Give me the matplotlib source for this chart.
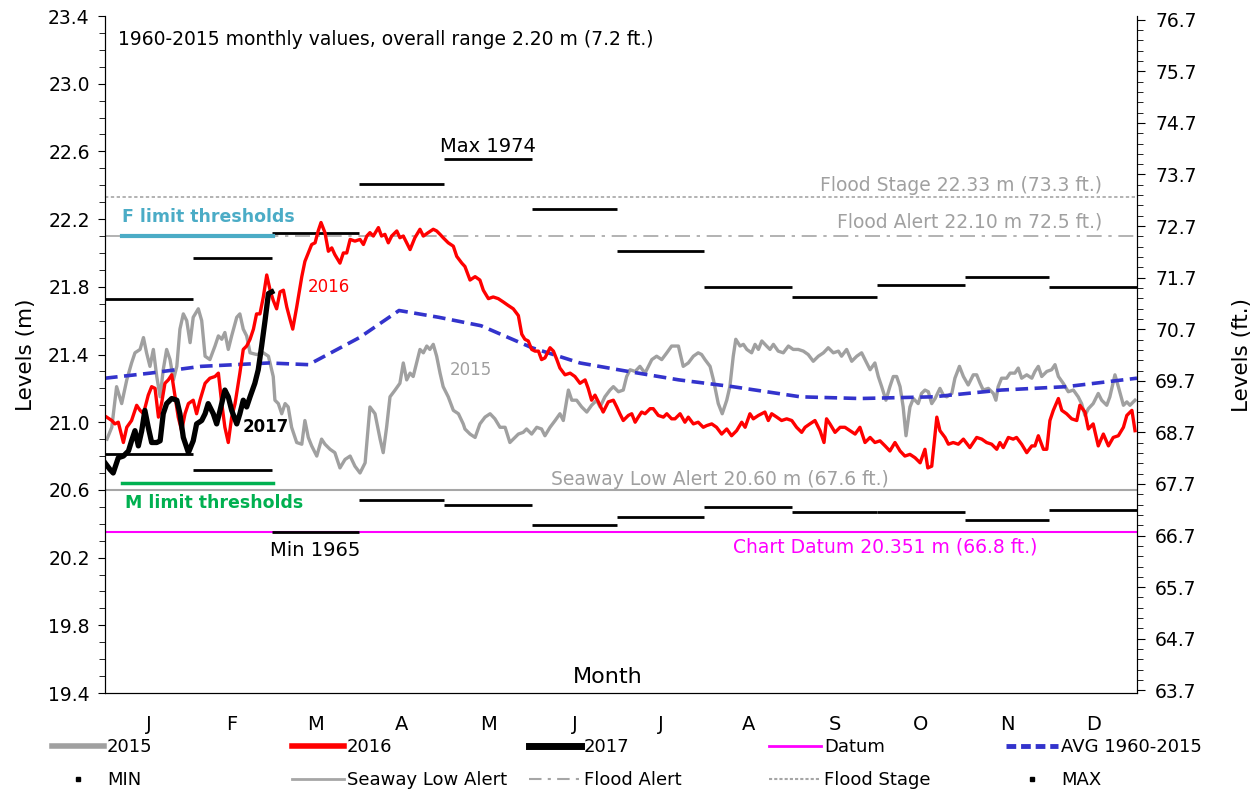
import matplotlib.pyplot as plt
import numpy as np
from matplotlib.lines import Line2D
from matplotlib.ticker import FixedLocator

plt.rcParams['font.family'] = ['DejaVu Sans']

# ---- data ----
MONTHS = ['J', 'F', 'M', 'A', 'M', 'J', 'J', 'A', 'S', 'O', 'N', 'D']
MONTH_DAYS = [31, 28, 31, 30, 31, 30, 31, 31, 30, 31, 30, 31]

# 1960-2015 monthly extremes (m)
MAX_LEVEL = [21.73, 21.97, 22.12, 22.41, 22.555, 22.26, 22.01, 21.80, 21.74, 21.81, 21.86, 21.80]
MIN_LEVEL = [20.81, 20.72, 20.35, 20.54, 20.51, 20.39, 20.44, 20.50, 20.47, 20.47, 20.42, 20.48]

# reference levels (m)
FLOOD_STAGE = 22.33
FLOOD_ALERT = 22.10
SEAWAY_LOW = 20.60
CHART_DATUM = 20.351
F_LIMIT = 22.10
M_LIMIT = 20.64
LIMIT_DAYS = [6.0, 59.4]

# average 1960-2015 (day of year, m)
avg_day = [0, 16, 34, 58, 72, 90, 104, 118, 133, 151, 168, 185, 203, 222,
           246, 267, 293, 317, 340, 355, 365]
avg_val = [21.26, 21.29, 21.33, 21.35, 21.34, 21.50, 21.66, 21.62, 21.57, 21.44,
           21.35, 21.30, 21.25, 21.21, 21.15, 21.14, 21.15, 21.19, 21.21, 21.24, 21.26]

# 2015 daily levels
day_2015 = [0.7, 2.4, 4.1, 5.9, 7.7, 9.4, 10.6, 12.4, 13.6, 14.7, 15.9, 17.1, 18.3, 19.5,
            20.6, 21.8, 23.0, 24.2, 25.4, 26.5, 27.7, 28.9, 30.1, 31.2, 33.0, 34.2, 35.4,
            37.1, 38.9, 40.1, 41.3, 42.4, 43.6, 44.8, 46.6, 47.7, 48.9, 50.1, 51.3, 53.6,
            56.0, 57.8, 59.5, 60.1, 61.3, 62.5, 63.7, 64.8, 66.0, 67.8, 69.6, 70.7, 71.9,
            73.1, 74.9, 76.6, 77.8, 79.6, 81.3, 83.1, 84.9, 86.7, 88.4, 90.2, 92.0, 93.7,
            95.5, 97.3, 98.4, 99.6, 100.8, 102.6, 104.3, 105.5, 106.7, 107.9, 109.0, 110.2,
            111.4, 112.6, 113.8, 114.9, 116.1, 117.3, 118.5, 119.6, 121.4, 123.2, 125.0,
            126.7, 127.3, 129.1, 130.9, 132.6, 134.4, 136.2, 137.9, 139.7, 141.5, 143.2,
            144.4, 146.2, 147.9, 149.1, 150.9, 152.7, 154.4, 155.6, 157.4, 159.2, 160.9,
            162.1, 163.9, 165.1, 166.8, 168.6, 170.4, 172.1, 173.9, 175.1, 176.8, 178.6,
            179.8, 181.6, 183.3, 184.5, 185.7, 187.5, 189.2, 191.0, 192.2, 193.4, 195.1,
            196.9, 198.7, 200.4, 202.8, 204.5, 206.3, 208.1, 209.8, 211.0, 212.2, 214.0,
            215.2, 216.9, 218.3, 219.9, 221.0, 222.2, 223.1, 224.6, 225.8, 227.0, 228.7,
            229.9, 231.1, 232.3, 234.0, 235.2, 236.4, 238.1, 239.9, 241.7, 243.4, 245.2,
            247.0, 248.7, 250.5, 252.3, 254.1, 255.8, 257.6, 259.4, 260.5, 262.3, 264.1,
            265.9, 267.6, 269.4, 270.6, 272.3, 273.5, 274.7, 276.2, 277.6, 278.8, 280.0,
            281.2, 282.3, 283.3, 284.7, 285.9, 287.6, 288.8, 290.0, 291.2, 292.4, 293.6,
            295.3, 296.5, 297.7, 299.5, 300.6, 302.2, 303.6, 305.3, 307.1, 308.3, 309.5,
            310.6, 312.4, 314.2, 315.1, 315.9, 317.1, 318.9, 320.1, 321.8, 323.0, 324.2,
            326.0, 327.8, 328.9, 330.1, 331.3, 333.1, 334.8, 336.0, 337.2, 338.9, 340.7,
            342.5, 344.2, 345.4, 346.6, 347.8, 349.5, 351.3, 352.5, 354.3, 355.4, 357.2,
            358.4, 360.2, 361.4, 362.5, 364.3]
lvl_2015 = [20.90, 20.97, 21.21, 21.11, 21.25, 21.35, 21.41, 21.43, 21.50, 21.41, 21.33, 21.43,
            21.27, 21.15, 21.31, 21.43, 21.37, 21.25, 21.33, 21.55, 21.64, 21.60, 21.47, 21.62,
            21.67, 21.60, 21.39, 21.37, 21.45, 21.51, 21.49, 21.53, 21.43, 21.51, 21.62, 21.64,
            21.55, 21.51, 21.41, 21.40, 21.41, 21.39, 21.27, 21.13, 21.11, 21.05, 21.11, 21.09,
            20.97, 20.88, 20.87, 21.01, 20.91, 20.86, 20.80, 20.90, 20.87, 20.84, 20.82, 20.73,
            20.78, 20.80, 20.74, 20.70, 20.76, 21.09, 21.05, 20.90, 20.82, 20.97, 21.15, 21.19,
            21.23, 21.35, 21.25, 21.29, 21.27, 21.35, 21.43, 21.41, 21.45, 21.43, 21.46, 21.39,
            21.29, 21.21, 21.15, 21.07, 21.05, 20.99, 20.96, 20.93, 20.91, 20.99, 21.03, 21.05,
            21.02, 20.97, 20.97, 20.88, 20.90, 20.93, 20.94, 20.96, 20.93, 20.97, 20.96, 20.92,
            20.97, 21.01, 21.05, 21.01, 21.19, 21.13, 21.13, 21.09, 21.06, 21.10, 21.13, 21.09,
            21.15, 21.19, 21.21, 21.18, 21.19, 21.27, 21.31, 21.30, 21.33, 21.29, 21.33, 21.37,
            21.39, 21.37, 21.41, 21.45, 21.45, 21.33, 21.35, 21.39, 21.41, 21.40, 21.37, 21.33,
            21.25, 21.11, 21.05, 21.13, 21.21, 21.39, 21.49, 21.45, 21.46, 21.43, 21.41, 21.46,
            21.43, 21.48, 21.45, 21.43, 21.46, 21.42, 21.41, 21.45, 21.43, 21.43, 21.42, 21.40,
            21.36, 21.39, 21.41, 21.44, 21.41, 21.42, 21.39, 21.43, 21.36, 21.39, 21.41, 21.35,
            21.31, 21.35, 21.27, 21.21, 21.13, 21.21, 21.27, 21.27, 21.21, 21.09, 20.92, 21.09,
            21.14, 21.11, 21.17, 21.19, 21.18, 21.11, 21.14, 21.20, 21.16, 21.15, 21.17, 21.26,
            21.33, 21.27, 21.22, 21.28, 21.28, 21.23, 21.19, 21.20, 21.17, 21.13, 21.21, 21.26,
            21.26, 21.29, 21.29, 21.32, 21.26, 21.28, 21.26, 21.30, 21.33, 21.27, 21.30, 21.31,
            21.34, 21.27, 21.23, 21.18, 21.19, 21.15, 21.11, 21.04, 21.08, 21.11, 21.17, 21.13,
            21.10, 21.15, 21.28, 21.21, 21.10, 21.12, 21.10, 21.13]

# 2016 daily levels
day_2016 = [0.6, 2.4, 3.5, 4.7, 6.5, 7.7, 9.4, 11.2, 12.4, 13.6, 15.3, 16.5, 17.7, 18.9, 20.0,
            21.2, 22.4, 23.6, 24.8, 25.9, 27.1, 28.3, 29.5, 31.2, 32.4, 33.6, 35.4, 37.1,
            38.9, 40.1, 41.3, 42.4, 43.6, 44.8, 46.0, 47.7, 48.9, 50.1, 51.3, 52.5, 53.6,
            54.8, 56.0, 57.2, 58.4, 59.5, 60.7, 61.9, 63.1, 64.3, 65.4, 66.4, 67.8, 69.6,
            70.7, 71.9, 73.1, 74.3, 75.4, 76.4, 77.8, 79.0, 80.2, 81.3, 83.1, 84.3, 85.5,
            86.7, 88.4, 90.2, 91.4, 92.6, 93.7, 94.9, 96.7, 97.8, 99.0, 100.2, 101.4, 103.2,
            104.3, 105.5, 106.7, 107.9, 109.6, 111.4, 112.6, 114.3, 116.1, 117.3, 118.5,
            119.6, 121.4, 123.2, 124.4, 126.2, 127.3, 129.1, 130.9, 132.6, 133.8, 135.6,
            137.3, 139.1, 140.9, 142.6, 144.4, 146.2, 147.4, 148.5, 149.7, 150.9, 152.1,
            153.3, 154.4, 155.6, 157.4, 158.6, 159.8, 160.9, 162.7, 164.5, 166.2, 168.0,
            169.8, 170.9, 172.1, 173.3, 174.5, 176.2, 178.0, 179.8, 181.0, 182.1, 183.3,
            185.1, 186.3, 187.5, 188.6, 189.8, 191.0, 192.8, 193.9, 195.7, 197.5, 198.7,
            200.4, 201.6, 203.4, 205.1, 206.3, 208.1, 209.8, 211.6, 212.8, 214.6, 216.3,
            218.1, 219.9, 221.6, 223.4, 225.2, 226.4, 228.1, 229.3, 231.1, 233.4, 234.6,
            235.8, 237.6, 239.3, 241.1, 242.9, 244.6, 246.4, 247.6, 249.3, 251.1, 252.9,
            254.3, 255.2, 256.4, 258.2, 260.0, 261.7, 263.5, 265.3, 267.0, 268.8, 270.6,
            272.3, 274.1, 275.9, 277.6, 279.4, 281.2, 282.9, 284.7, 286.5, 288.3, 290.0,
            291.0, 292.4, 294.2, 295.3, 297.1, 298.3, 300.0, 301.8, 303.6, 305.9, 308.3,
            310.1, 311.8, 313.6, 315.4, 316.5, 317.7, 319.5, 321.2, 322.4, 324.2, 326.0,
            327.8, 328.9, 330.1, 331.9, 333.1, 334.2, 335.4, 337.2, 338.4, 340.1, 341.9,
            343.7, 344.8, 346.6, 347.8, 349.5, 351.3, 353.1, 354.9, 356.6, 358.4, 360.2,
            361.4, 363.2, 364.3]
lvl_2016 = [21.03, 21.01, 20.99, 21.00, 20.88, 20.97, 21.01, 21.10, 21.07, 21.05, 21.16, 21.21,
            21.20, 21.03, 21.11, 21.23, 21.25, 21.28, 21.15, 21.03, 20.95, 21.05, 21.11, 21.13,
            21.05, 21.13, 21.23, 21.26, 21.27, 21.29, 21.11, 20.97, 20.88, 21.03, 21.11, 21.29,
            21.43, 21.45, 21.49, 21.55, 21.64, 21.64, 21.74, 21.87, 21.78, 21.72, 21.67, 21.77,
            21.78, 21.68, 21.61, 21.55, 21.68, 21.86, 21.95, 22.00, 22.05, 22.06, 22.13, 22.18,
            22.12, 22.01, 22.03, 21.99, 21.94, 22.00, 22.00, 22.08, 22.07, 22.08, 22.05, 22.10,
            22.12, 22.10, 22.15, 22.10, 22.11, 22.06, 22.10, 22.13, 22.09, 22.10, 22.06, 22.02,
            22.09, 22.14, 22.10, 22.12, 22.14, 22.13, 22.11, 22.09, 22.06, 22.04, 21.98, 21.94,
            21.92, 21.84, 21.86, 21.84, 21.78, 21.73, 21.74, 21.73, 21.71, 21.69, 21.67, 21.63,
            21.52, 21.49, 21.48, 21.43, 21.42, 21.42, 21.37, 21.38, 21.44, 21.42, 21.37, 21.32,
            21.28, 21.29, 21.27, 21.23, 21.25, 21.20, 21.13, 21.16, 21.12, 21.06, 21.12, 21.13,
            21.09, 21.05, 21.01, 21.04, 21.05, 21.00, 21.03, 21.06, 21.05, 21.08, 21.08, 21.04,
            21.03, 21.05, 21.02, 21.02, 21.05, 21.00, 21.03, 20.99, 21.00, 20.97, 20.98, 20.99,
            20.97, 20.93, 20.96, 20.92, 20.95, 21.00, 20.97, 21.05, 21.02, 21.04, 21.06, 21.01,
            21.05, 21.03, 21.01, 21.02, 21.01, 20.97, 20.94, 20.97, 20.99, 21.01, 20.95, 20.88,
            21.02, 20.99, 20.94, 20.97, 20.97, 20.95, 20.93, 20.97, 20.88, 20.91, 20.88, 20.89,
            20.86, 20.83, 20.88, 20.83, 20.80, 20.81, 20.79, 20.76, 20.84, 20.73, 20.74, 21.03,
            20.95, 20.91, 20.87, 20.88, 20.87, 20.90, 20.85, 20.91, 20.90, 20.88, 20.87, 20.84,
            20.88, 20.85, 20.91, 20.90, 20.91, 20.87, 20.82, 20.86, 20.86, 20.92, 20.84, 20.84,
            21.01, 21.07, 21.14, 21.07, 21.05, 21.02, 21.01, 21.10, 21.06, 20.96, 20.99, 20.86,
            20.93, 20.86, 20.91, 20.92, 20.97, 21.04, 21.07, 20.95]

# 2017 daily levels (to end of February)
day_2017 = [0.0, 1.8, 2.9, 4.7, 6.5, 8.3, 9.4, 10.6, 11.8, 13.0, 14.1, 15.3, 16.5, 18.3, 19.5,
            20.6, 21.8, 23.6, 25.4, 26.5, 27.7, 29.5, 31.2, 32.4, 34.2, 35.4, 36.5, 38.3,
            39.5, 40.7, 42.4, 43.6, 44.8, 46.6, 47.7, 48.9, 50.1, 51.3, 53.0, 54.2, 55.4,
            56.6, 57.8, 59.0]
lvl_2017 = [20.76, 20.72, 20.70, 20.79, 20.80, 20.83, 20.89, 20.95, 20.86, 20.95, 21.07, 20.97,
            20.88, 20.88, 20.89, 21.05, 21.11, 21.14, 21.13, 21.05, 20.91, 20.82, 20.89, 20.99,
            21.01, 21.05, 21.11, 21.05, 20.99, 21.07, 21.19, 21.15, 21.07, 20.99, 21.05, 21.13,
            21.09, 21.15, 21.23, 21.31, 21.45, 21.60, 21.76, 21.77]

M_TO_FT = 3.28084
GRAY = '#A0A0A0'
LIGHT_GRAY = '#A6A6A6'
BLUE = '#3333CC'
MAGENTA = '#FF00FF'
CYAN = '#4BACC6'
GREEN = '#00B050'

# ---- figure ----
fig = plt.figure(figsize=(12.5, 7.93), dpi=100)
ax = fig.add_axes([0.084, 0.1261, 0.8256, 0.8537])

month_end = np.cumsum(MONTH_DAYS)
month_start = month_end - np.array(MONTH_DAYS)
month_mid = month_start + np.array(MONTH_DAYS) / 2.0

# reference lines
ax.axhline(FLOOD_STAGE, color=LIGHT_GRAY, lw=1.2, dashes=(2, 1.5), zorder=1)
ax.axhline(FLOOD_ALERT, color=LIGHT_GRAY, lw=1.2, dashes=(9, 4, 2, 4), zorder=1)
ax.axhline(SEAWAY_LOW, color=LIGHT_GRAY, lw=1.5, zorder=1)
ax.axhline(CHART_DATUM, color=MAGENTA, lw=1.5, zorder=1)

# monthly extremes
ax.hlines(MAX_LEVEL, month_start, month_end, color='black', lw=2, zorder=2)
ax.hlines(MIN_LEVEL, month_start, month_end, color='black', lw=2, zorder=2)

# limit thresholds
ax.plot(LIMIT_DAYS, [F_LIMIT, F_LIMIT], color=CYAN, lw=3, zorder=3)
ax.plot(LIMIT_DAYS, [M_LIMIT, M_LIMIT], color=GREEN, lw=2.5, zorder=3)

# series
ax.plot(day_2015, lvl_2015, color=GRAY, lw=2.4, zorder=4)
ax.plot(avg_day, avg_val, color=BLUE, lw=2.6, dashes=(3.5, 1.8), zorder=5)
ax.plot(day_2016, lvl_2016, color='red', lw=2.4, zorder=6)
ax.plot(day_2017, lvl_2017, color='black', lw=3.8, zorder=7)

# annotations
ax.text(0.013, 0.965, '1960-2015 monthly values, overall range 2.20 m (7.2 ft.)',
        transform=ax.transAxes, fontsize=13.5, va='center', ha='left')
ax.text(month_mid[4], 22.575, 'Max 1974', fontsize=14, ha='center', va='bottom')
ax.text(month_mid[2], 20.30, 'Min 1965', fontsize=14, ha='center', va='top')
ax.text(6.0, 22.21, 'F limit thresholds', color=CYAN, fontsize=12.5,
        fontweight='bold', ha='left', va='center')
ax.text(7.0, 20.52, 'M limit thresholds', color=GREEN, fontsize=12.5,
        fontweight='bold', ha='left', va='center')
ax.text(71.8, 21.80, '2016', color='red', fontsize=12, ha='left', va='center')
ax.text(122.0, 21.31, '2015', color=GRAY, fontsize=12, ha='left', va='center')
ax.text(48.8, 20.97, '2017', color='black', fontsize=12, fontweight='bold',
        ha='left', va='center')
ax.text(352.6, 22.40, 'Flood Stage 22.33 m (73.3 ft.)', color=GRAY, fontsize=13.5,
        ha='right', va='center')
ax.text(352.6, 22.18, 'Flood Alert 22.10 m 72.5 ft.)', color=GRAY, fontsize=13.5,
        ha='right', va='center')
ax.text(217.5, 20.66, 'Seaway Low Alert 20.60 m (67.6 ft.)', color=GRAY, fontsize=13.5,
        ha='center', va='center')
ax.text(276.0, 20.26, 'Chart Datum 20.351 m (66.8 ft.)', color=MAGENTA, fontsize=13.5,
        ha='center', va='center')
ax.text(0.487, 0.024, 'Month', transform=ax.transAxes, fontsize=16,
        ha='center', va='center')

# axes
ax.set_xlim(0, 365)
ax.set_ylim(19.4, 23.4)
ax.set_xticks(month_mid)
ax.set_xticklabels(MONTHS, fontsize=14)
ax.tick_params(axis='x', length=0, pad=16)
ax.yaxis.set_major_locator(FixedLocator(np.arange(19.4, 23.45, 0.4)))
ax.yaxis.set_minor_locator(FixedLocator(np.arange(19.4, 23.45, 0.1)))
ax.yaxis.set_major_formatter(plt.FormatStrFormatter('%.1f'))
ax.tick_params(axis='y', which='major', labelsize=13.5, length=5, pad=6)
ax.tick_params(axis='y', which='minor', length=4)
ax.set_ylabel('Levels (m)', fontsize=15.5)
ax.yaxis.set_label_coords(-0.067, 0.5)
ax.spines['top'].set_visible(False)

ax2 = ax.twinx()
ax2.set_ylim(19.4 * M_TO_FT, 23.4 * M_TO_FT)
ax2.yaxis.set_major_locator(FixedLocator(np.arange(63.7, 76.75, 1.0)))
ax2.yaxis.set_minor_locator(FixedLocator(np.arange(63.7, 76.75, 0.2)))
ax2.yaxis.set_major_formatter(plt.FormatStrFormatter('%.1f'))
ax2.tick_params(axis='y', which='major', labelsize=13.5, length=6, pad=7)
ax2.tick_params(axis='y', which='minor', length=4)
ax2.set_ylabel('Levels (ft.)', fontsize=15.5)
ax2.yaxis.set_label_coords(1.092, 0.5)
ax2.spines['top'].set_visible(False)

# legend: five columns of two entries
legend_cols = [
    [Line2D([], [], color=GRAY, lw=4, label='2015'),
     Line2D([], [], color='black', marker='s', ms=3, ls='none', label='MIN')],
    [Line2D([], [], color='red', lw=4, label='2016'),
     Line2D([], [], color=LIGHT_GRAY, lw=2, label='Seaway Low Alert')],
    [Line2D([], [], color='black', lw=5, label='2017'),
     Line2D([], [], color=LIGHT_GRAY, lw=1.5, dashes=(6, 3, 1.5, 3), label='Flood Alert')],
    [Line2D([], [], color=MAGENTA, lw=2, label='Datum'),
     Line2D([], [], color=LIGHT_GRAY, lw=1.5, dashes=(1.5, 1), label='Flood Stage')],
    [Line2D([], [], color=BLUE, lw=3.5, dashes=(2, 1), label='AVG 1960-2015'),
     Line2D([], [], color='black', marker='s', ms=3, ls='none', label='MAX')],
]
col_x = [0.0416, 0.2336, 0.4232, 0.6152, 0.8048]
for x, handles in zip(col_x, legend_cols):
    fig.legend(handles=handles, loc='upper left', bbox_to_anchor=(x, 0.0695),
               frameon=False, fontsize=13, handlelength=2.9, handletextpad=0.15,
               labelspacing=0.84, borderpad=0, borderaxespad=0, numpoints=1)

fig.savefig('out.png', dpi=100)
